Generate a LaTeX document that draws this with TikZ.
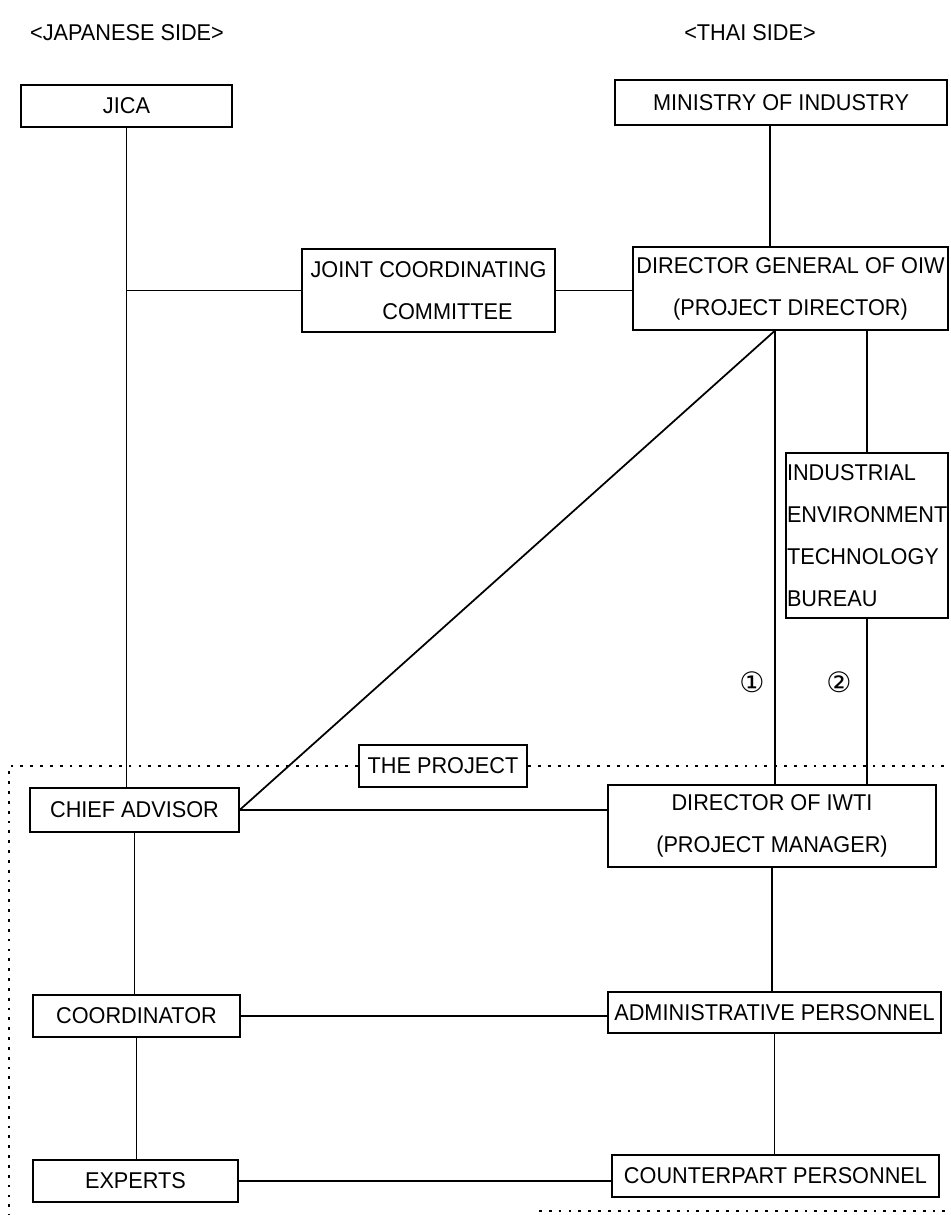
\documentclass[tikz,border=0pt]{standalone}
\usepackage{fontspec}
\setmainfont{Liberation Sans}[FakeStretch=0.95]
\newfontfamily\circfont{DejaVu Sans}
\usetikzlibrary{positioning}

\begin{document}
\begin{tikzpicture}
[x=0.02cm, y=-0.02cm,
every node/.style={font=\fontsize{13}{23.8}\selectfont},
box/.style={draw, line width=0.7pt, inner sep=1pt, align=center},
projbox/.style={draw, line width=1.4pt, inner sep=2pt, minimum width=3.36cm, minimum height=0.84cm},
link/.style={line width=1pt},
frame/.style={line width=1.2pt, dash pattern=on 1.6pt off 4pt}
]
  \useasboundingbox (0,0) rectangle (951,1215);

  % headings
  \node (jside) at (127,33) {<JAPANESE SIDE>};
  \node (tside) at (750,33) {<THAI SIDE>};

  % upper level
  \node[box, minimum width=4.22cm, minimum height=0.84cm] (jica)     at (126.5,106)   {JICA};
  \node[box, minimum width=6.64cm, minimum height=0.90cm] (ministry) at (781,102.5)   {MINISTRY OF INDUSTRY};
  \node[box, minimum width=5.06cm, minimum height=1.66cm] (jcc)      at (428.5,290.5) {JOINT COORDINATING\\\hspace{0.76cm}COMMITTEE};
  \node[box, minimum width=6.30cm, minimum height=1.66cm] (dg)       at (790.5,288.5) {DIRECTOR GENERAL OF OIW\\(PROJECT DIRECTOR)};
  \node[box, minimum width=3.24cm, minimum height=3.30cm, text width=3.2cm, align=left, inner sep=0.5pt] (ietb) at (867,535.5)
        {INDUSTRIAL\\ENVIRONMENT\\TECHNOLOGY\\BUREAU};

  % the project
  \node[projbox] (project) at (443,766) {THE PROJECT};
  \node[box, minimum width=4.18cm, minimum height=0.88cm] (chief)   at (134.5,810)   {CHIEF ADVISOR};
  \node[box, minimum width=6.56cm, minimum height=1.64cm] (iwti)    at (772,826)     {DIRECTOR OF IWTI\\(PROJECT MANAGER)};
  \node[box, minimum width=4.14cm, minimum height=0.84cm] (coord)   at (136.5,1016)  {COORDINATOR};
  \node[box, minimum width=6.66cm, minimum height=0.82cm] (admin)   at (774.5,1012.5){ADMINISTRATIVE PERSONNEL};
  \node[box, minimum width=4.10cm, minimum height=0.84cm] (experts) at (135.5,1181)  {EXPERTS};
  \node[box, minimum width=6.54cm, minimum height=0.84cm] (counter) at (775.5,1176)  {COUNTERPART PERSONNEL};

  \node (one) at (752,682) {\circfont\fontsize{16}{16}\selectfont ①};
  \node (two) at (839,682) {\circfont\fontsize{16}{16}\selectfont ②};

  \coordinate (minfoot) at ([xshift=-0.22cm]ministry.south);
  \coordinate (dgfoot)  at ([xshift=-0.31cm]dg.south);
  \coordinate (ftl) at (9,766);
  \coordinate (fbl) at (9,1215);
  \coordinate (ftr) at (951,766);
  \coordinate (fbm) at (539,1211);
  \coordinate (fbr) at (951,1211);

  % japanese side
  \draw[link] (jica.south) -- (jica.south |- chief.north);
  \draw[link] (chief.south) -- (chief.south |- coord.north);
  \draw[link] (coord.south) -- (coord.south |- experts.north);
  \draw[link] (jcc.west) -- (jcc.west -| jica.south);
  \draw[link] (jcc.east) -- (jcc.east -| dg.west);

  % thai side
  \draw[link] (minfoot) -- (minfoot |- dg.north);
  \draw[link] (dgfoot) -- (dgfoot |- iwti.north);
  \draw[link] (dgfoot) -- (chief.east);
  \draw[link] (ietb.north |- dg.south) -- (ietb.north);
  \draw[link] (ietb.south) -- (ietb.south |- iwti.north);
  \draw[link] (iwti.south) -- (iwti.south |- admin.north);
  \draw[link] (admin.south) -- (admin.south |- counter.north);

  % across
  \draw[link] (chief.east) -- (chief.east -| iwti.west);
  \draw[link] (coord.east) -- (coord.east -| admin.west);
  \draw[link] (experts.east) -- (experts.east -| counter.west);

  % frame of the project
  \draw[frame] (project.west) -- (ftl) -- (fbl);
  \draw[frame] (project.east) -- (ftr);
  \draw[frame] (fbm) -- (fbr);
\end{tikzpicture}
\end{document}
